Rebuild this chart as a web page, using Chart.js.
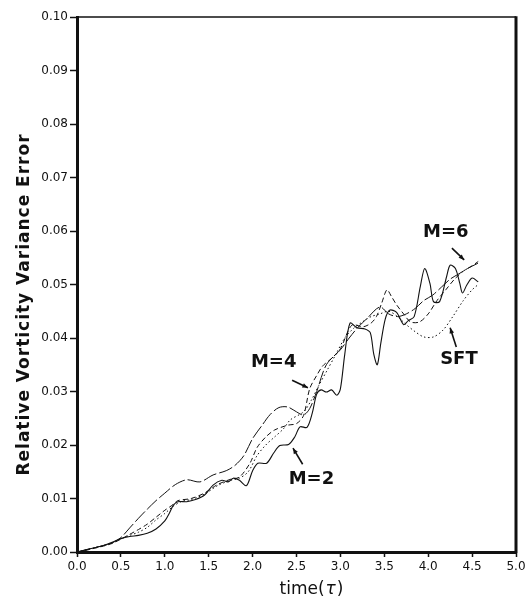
<!DOCTYPE html>
<html>
<head>
<meta charset="utf-8">
<script src="https://cdn.jsdelivr.net/npm/chart.js@4/dist/chart.umd.min.js"></script>
<style>
  html, body { margin: 0; padding: 0; background: #fff; }
  canvas { display: block; }
</style>
</head>
<body>
<canvas id="c" width="531" height="598"></canvas>
<script>
// Relative vorticity variance error versus time for the M=2, M=4, M=6 and SFT runs.
const m2Time = [0, 0.1, 0.2, 0.3, 0.4, 0.5, 0.6, 0.7, 0.8, 0.9, 1.0, 1.05, 1.1, 1.15, 1.25, 1.35, 1.45, 1.55, 1.65, 1.72, 1.78, 1.85, 1.93, 2.0, 2.06, 2.16, 2.24, 2.31, 2.41, 2.48, 2.54, 2.62, 2.68, 2.73, 2.78, 2.84, 2.9, 2.96, 3.0, 3.05, 3.11, 3.19, 3.28, 3.34, 3.38, 3.42, 3.46, 3.51, 3.56, 3.64, 3.72, 3.77, 3.84, 3.91, 3.96, 4.02, 4.06, 4.13, 4.21, 4.25, 4.31, 4.36, 4.39, 4.44, 4.5, 4.57];
const m2Err  = [0, 0.0004, 0.0008, 0.0012, 0.0018, 0.0025, 0.0029, 0.0031, 0.0035, 0.0043, 0.0058, 0.0072, 0.0088, 0.0094, 0.0094, 0.0098, 0.0106, 0.0125, 0.0134, 0.0131, 0.0138, 0.0134, 0.0124, 0.0152, 0.0166, 0.0166, 0.0185, 0.0199, 0.0201, 0.0215, 0.0234, 0.0233, 0.0260, 0.0295, 0.0303, 0.0299, 0.0303, 0.0293, 0.0305, 0.0370, 0.0428, 0.0419, 0.0417, 0.0410, 0.0370, 0.0350, 0.0390, 0.0435, 0.0452, 0.0448, 0.0425, 0.0432, 0.0440, 0.0496, 0.0530, 0.0502, 0.0468, 0.0468, 0.0515, 0.0536, 0.0530, 0.0502, 0.0484, 0.0499, 0.0512, 0.0505];

const m4Time = [0, 0.1, 0.2, 0.3, 0.4, 0.5, 0.6, 0.7, 0.8, 0.9, 1.0, 1.08, 1.15, 1.3, 1.45, 1.6, 1.75, 1.85, 1.97, 2.05, 2.15, 2.25, 2.4, 2.5, 2.58, 2.65, 2.73, 2.8, 2.9, 3.0, 3.13, 3.26, 3.35, 3.41, 3.47, 3.53, 3.58, 3.64, 3.72, 3.8, 3.9, 4.0, 4.1, 4.2, 4.3, 4.4, 4.5, 4.57];
const m4Err  = [0, 0.0003, 0.0007, 0.0011, 0.0016, 0.0024, 0.0033, 0.0042, 0.0052, 0.0065, 0.0078, 0.0087, 0.0096, 0.0100, 0.0110, 0.0126, 0.0136, 0.0140, 0.0166, 0.0195, 0.0215, 0.0228, 0.0237, 0.0240, 0.0255, 0.0305, 0.0330, 0.0348, 0.0362, 0.0380, 0.0424, 0.0421, 0.0428, 0.0440, 0.0465, 0.0490, 0.0478, 0.0462, 0.0445, 0.0430, 0.0430, 0.0445, 0.0470, 0.0490, 0.0510, 0.0525, 0.0535, 0.0543];

const m6Time = [0, 0.1, 0.2, 0.3, 0.4, 0.5, 0.6, 0.7, 0.8, 0.9, 1.0, 1.12, 1.25, 1.4, 1.55, 1.7, 1.8, 1.9, 2.0, 2.1, 2.2, 2.3, 2.4, 2.5, 2.58, 2.65, 2.73, 2.84, 3.0, 3.1, 3.2, 3.3, 3.45, 3.55, 3.65, 3.75, 3.85, 3.95, 4.05, 4.15, 4.25, 4.35, 4.45, 4.57];
const m6Err  = [0, 0.0004, 0.0008, 0.0012, 0.0017, 0.0027, 0.0045, 0.0063, 0.0080, 0.0096, 0.0110, 0.0126, 0.0135, 0.0131, 0.0144, 0.0152, 0.0162, 0.0180, 0.0212, 0.0235, 0.0257, 0.0270, 0.0271, 0.0262, 0.0256, 0.0268, 0.0300, 0.0350, 0.0378, 0.0400, 0.0420, 0.0436, 0.0458, 0.0445, 0.0440, 0.0445, 0.0455, 0.0470, 0.0480, 0.0495, 0.0510, 0.0520, 0.0530, 0.0540];

const sftTime = [0, 0.1, 0.2, 0.3, 0.4, 0.5, 0.6, 0.7, 0.8, 0.9, 1.0, 1.1, 1.2, 1.3, 1.45, 1.6, 1.75, 1.85, 1.95, 2.05, 2.15, 2.25, 2.35, 2.43, 2.58, 2.67, 2.75, 2.85, 2.95, 3.05, 3.15, 3.25, 3.35, 3.45, 3.55, 3.65, 3.75, 3.85, 3.95, 4.06, 4.17, 4.28, 4.4, 4.5, 4.57];
const sftErr  = [0, 0.0004, 0.0008, 0.0012, 0.0017, 0.0025, 0.0031, 0.0037, 0.0046, 0.0060, 0.0072, 0.0086, 0.0095, 0.0098, 0.0108, 0.0124, 0.0134, 0.0138, 0.0150, 0.0180, 0.0200, 0.0215, 0.0230, 0.0247, 0.0262, 0.0284, 0.0310, 0.0340, 0.0370, 0.0400, 0.0418, 0.0430, 0.0440, 0.0445, 0.0450, 0.0440, 0.0425, 0.0412, 0.0402, 0.0402, 0.0415, 0.0440, 0.0470, 0.0490, 0.0500];

// Axis tick values
const xTicks = [0, 0.5, 1.0, 1.5, 2.0, 2.5, 3.0, 3.5, 4.0, 4.5, 5.0];
const yTicks = [0, 0.01, 0.02, 0.03, 0.04, 0.05, 0.06, 0.07, 0.08, 0.09, 0.10];

// Curve labels with their pointer arrows, in data units (time, error)
const curveLabels = [
  { text: 'M=6', at: [4.20, 0.0598], from: [4.27, 0.0568], to: [4.41, 0.0546] },
  { text: 'M=4', at: [2.24, 0.0355], from: [2.45, 0.0321], to: [2.63, 0.0307] },
  { text: 'M=2', at: [2.67, 0.0136], from: [2.57, 0.0164], to: [2.46, 0.0194] },
  { text: 'SFT', at: [4.35, 0.0361], from: [4.32, 0.0383], to: [4.25, 0.0419] }
];

const INK = '#111';
const FONT = '"DejaVu Sans", "Noto Sans", sans-serif';

const pts = (t, e) => t.map((v, i) => ({ x: v, y: e[i] }));

function lineSet(label, t, e, dash, width) {
  return {
    label, data: pts(t, e),
    borderColor: INK, borderWidth: width, borderDash: dash,
    pointRadius: 0, fill: false, tension: 0.3
  };
}

const framePlugin = {
  id: 'frameAndText',
  afterDraw(chart) {
    const { ctx, chartArea: a, scales: { x, y } } = chart;
    ctx.save();
    // top and right edges of the plot frame
    ctx.strokeStyle = INK;
    ctx.lineWidth = 1.5;
    ctx.beginPath();
    ctx.moveTo(a.left, a.top);
    ctx.lineTo(a.right, a.top);
    ctx.stroke();
    ctx.lineWidth = 3;
    ctx.beginPath();
    ctx.moveTo(a.right, a.top - 0.75);
    ctx.lineTo(a.right, a.bottom + 1.5);
    ctx.stroke();

    // y axis title
    ctx.fillStyle = INK;
    ctx.font = 'bold 17px ' + FONT;
    ctx.textAlign = 'center';
    ctx.textBaseline = 'middle';
    ctx.save();
    ctx.letterSpacing = '1px';
    ctx.translate(25, (a.top + a.bottom) / 2 + 20);
    ctx.rotate(-Math.PI / 2);
    ctx.fillText('Relative Vorticity Variance Error', 0, 0);
    ctx.restore();

    // x axis title: time(τ) with an italic tau
    const base = '17px ' + FONT;
    const ital = 'italic 17px ' + FONT;
    ctx.textAlign = 'left';
    ctx.font = base;
    const w1 = ctx.measureText('time(').width;
    const w3 = ctx.measureText(')').width;
    ctx.font = ital;
    const w2 = ctx.measureText('τ').width + 2;
    const cx = (a.left + a.right) / 2 + 15;
    const px = cx - (w1 + w2 + w3) / 2;
    const py = 590;
    ctx.font = base;
    ctx.fillText('time(', px, py);
    ctx.font = ital;
    ctx.fillText('τ', px + w1 + 1, py);
    ctx.font = base;
    ctx.fillText(')', px + w1 + w2, py);

    // curve labels and arrows
    ctx.font = 'bold 18px ' + FONT;
    ctx.textAlign = 'center';
    ctx.lineWidth = 1.6;
    curveLabels.forEach(l => {
      ctx.fillText(l.text, x.getPixelForValue(l.at[0]), y.getPixelForValue(l.at[1]));
      const x0 = x.getPixelForValue(l.from[0]), y0 = y.getPixelForValue(l.from[1]);
      const x1 = x.getPixelForValue(l.to[0]), y1 = y.getPixelForValue(l.to[1]);
      const ang = Math.atan2(y1 - y0, x1 - x0);
      ctx.beginPath();
      ctx.moveTo(x0, y0);
      ctx.lineTo(x1, y1);
      ctx.stroke();
      const h = 6;
      ctx.beginPath();
      ctx.moveTo(x1, y1);
      ctx.lineTo(x1 - h * Math.cos(ang - 0.4), y1 - h * Math.sin(ang - 0.4));
      ctx.lineTo(x1 - h * Math.cos(ang + 0.4), y1 - h * Math.sin(ang + 0.4));
      ctx.closePath();
      ctx.fill();
    });
    ctx.restore();
  }
};

new Chart(document.getElementById('c'), {
  type: 'line',
  data: {
    datasets: [
      lineSet('M=2', m2Time, m2Err, [], 1.1),
      lineSet('M=4', m4Time, m4Err, [5, 3], 1.0),
      lineSet('M=6', m6Time, m6Err, [14, 3], 1.0),
      lineSet('SFT', sftTime, sftErr, [1.5, 2.5], 1.0)
    ]
  },
  options: {
    responsive: false,
    animation: false,
    devicePixelRatio: 1,
    layout: { padding: { top: 17, right: 15, left: 0, bottom: 0 } },
    plugins: { legend: { display: false }, tooltip: { enabled: false } },
    scales: {
      x: {
        type: 'linear', min: 0, max: 5,
        afterBuildTicks: s => { s.ticks = xTicks.map(v => ({ value: v })); },
        ticks: {
          callback: v => v.toFixed(1), color: INK, padding: 3,
          maxRotation: 0, autoSkip: false,
          font: { family: FONT, size: 12 }
        },
        grid: { drawOnChartArea: false, tickLength: 5, tickWidth: 1.5, tickColor: INK },
        border: { display: true, color: INK, width: 3 },
        afterFit: s => { s.height = 46; }
      },
      y: {
        type: 'linear', min: 0, max: 0.1,
        afterBuildTicks: s => { s.ticks = yTicks.map(v => ({ value: v })); },
        ticks: {
          callback: v => v.toFixed(2), color: INK, padding: 2,
          autoSkip: false,
          font: { family: FONT, size: 12 }
        },
        grid: { drawOnChartArea: false, tickLength: 7, tickWidth: 1.5, tickColor: INK },
        border: { display: true, color: INK, width: 3 },
        afterFit: s => { s.width = 77; }
      }
    }
  },
  plugins: [framePlugin]
});
</script>
</body>
</html>
